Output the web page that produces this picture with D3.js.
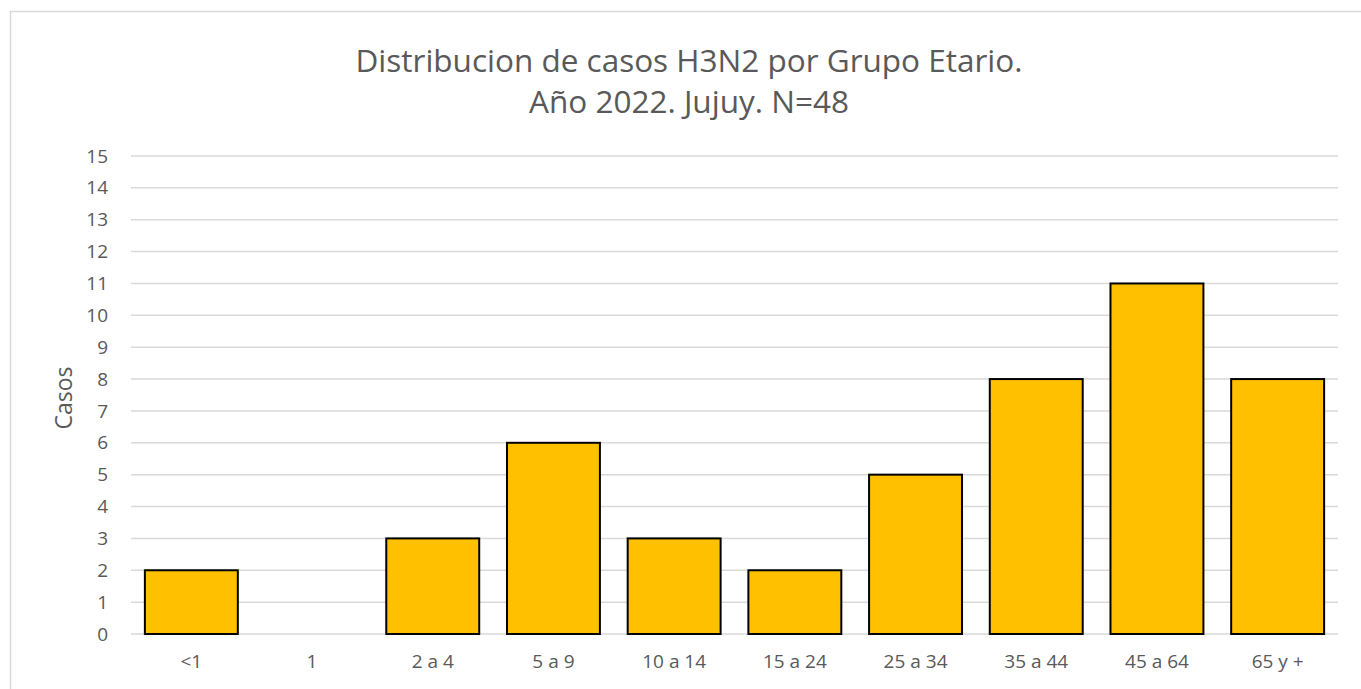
<!DOCTYPE html>
<html>
<head>
<meta charset="utf-8">
<script src="https://cdn.jsdelivr.net/npm/d3@7"></script>
<style>
  body { margin: 0; background: #fff; }
  text { font-family: "Open Sans", sans-serif; fill: #595959; }
</style>
</head>
<body>
<div id="chart"></div>
<script>
// data
var categories = ["<1", "1", "2 a 4", "5 a 9", "10 a 14", "15 a 24", "25 a 34", "35 a 44", "45 a 64", "65 y +"];
var casos = [2, 0, 3, 6, 3, 2, 5, 8, 11, 8];
var yTicks = d3.range(0, 16);
var titleLines = ["Distribucion de casos H3N2 por Grupo Etario.", "Año 2022. Jujuy. N=48"];

var W = 1361, H = 689;
var margin = {top: 156, right: 23, bottom: 55, left: 131};
var width = W - margin.left - margin.right,
    height = H - margin.top - margin.bottom;

var data = categories.map(function(c, i) { return {cat: c, val: casos[i]}; });

var svg = d3.select("#chart")
  .append("svg")
  .attr("width", W)
  .attr("height", H);

// chart frame (only top and left edges are visible in the crop)
svg.append("rect")
  .attr("x", 10.5).attr("y", 11.5)
  .attr("width", W + 20).attr("height", H + 20)
  .attr("fill", "none")
  .attr("stroke", "#d9d9d9")
  .attr("stroke-width", 1.5);

// title, two separate lines
svg.append("g")
  .selectAll("text")
  .data(titleLines)
  .join("text")
    .attr("x", 689)
    .attr("y", function(d, i) { return 72 + i * 41; })
    .attr("text-anchor", "middle")
    .style("font-size", "31.5px")
    .text(function(d) { return d; });

var g = svg.append("g")
  .attr("transform", "translate(" + margin.left + "," + margin.top + ")");

var x = d3.scaleBand()
  .domain(categories)
  .range([0, width])
  .paddingInner(0.23)
  .paddingOuter(0.115);

var y = d3.scaleLinear()
  .domain([0, 15])
  .range([height, 0]);

// gridlines
g.append("g")
  .selectAll("line")
  .data(yTicks)
  .join("line")
    .attr("x1", 0)
    .attr("x2", width)
    .attr("y1", function(d) { return y(d); })
    .attr("y2", function(d) { return y(d); })
    .attr("stroke", "#d9d9d9")
    .attr("stroke-width", 1.5);

// y axis labels
var yAxis = g.append("g")
  .call(d3.axisLeft(y).tickValues(yTicks).tickSize(0).tickPadding(23).tickFormat(d3.format("d")));
yAxis.select(".domain").remove();
yAxis.selectAll("text").style("font-size", "19px").attr("fill", "#595959");

// x axis labels
var xAxis = g.append("g")
  .attr("transform", "translate(0," + height + ")")
  .call(d3.axisBottom(x).tickSize(0).tickPadding(21));
xAxis.select(".domain").remove();
xAxis.selectAll("text").style("font-size", "19px").attr("fill", "#595959");

// bars (zero values draw nothing)
g.append("g")
  .selectAll("rect")
  .data(data.filter(function(d) { return d.val > 0; }))
  .join("rect")
    .attr("x", function(d) { return x(d.cat); })
    .attr("y", function(d) { return y(d.val); })
    .attr("width", x.bandwidth())
    .attr("height", function(d) { return height - y(d.val); })
    .attr("fill", "#ffc000")
    .attr("stroke", "#000")
    .attr("stroke-width", 2);

// y axis title
svg.append("text")
  .attr("transform", "translate(72,398) rotate(-90)")
  .attr("text-anchor", "middle")
  .style("font-size", "23px")
  .text("Casos");
</script>
</body>
</html>
